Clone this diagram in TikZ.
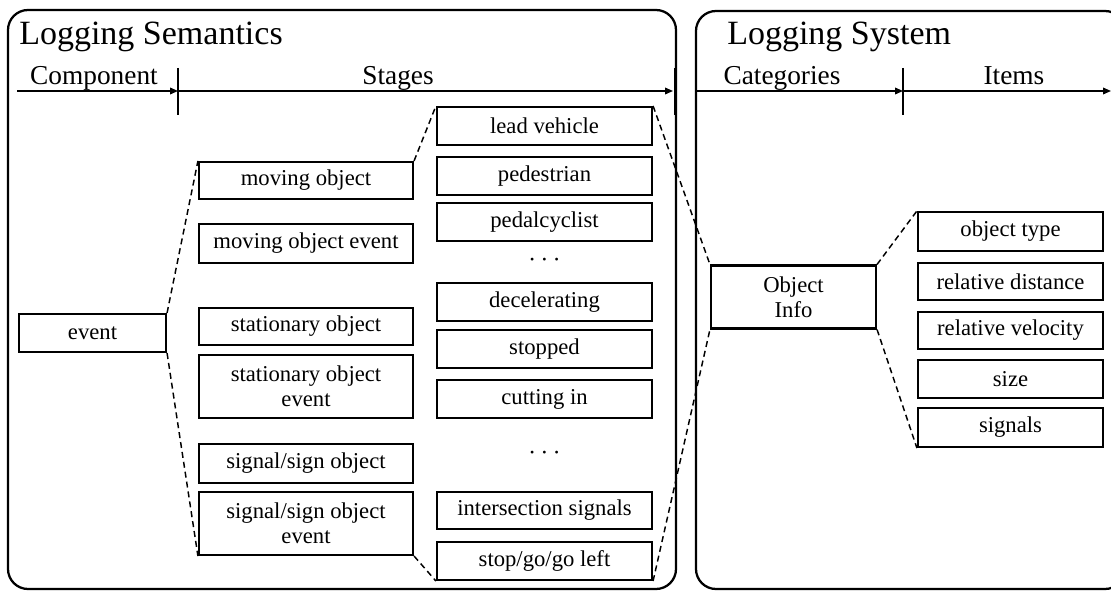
\documentclass[tikz,border=0pt]{standalone}
\usepackage{fontspec}
\setmainfont{Liberation Serif}
\usetikzlibrary{arrows.meta}
\tikzset{
  panel/.style={draw, line width=1.7pt, rounded corners=15pt},
  bx/.style 2 args={draw, line width=1.6pt, inner sep=0pt, align=center,
    minimum width=#1*0.75pt, minimum height=#2*0.75pt,
    font=\fontsize{17}{19}\selectfont},
  link/.style={line width=1.1pt, dash pattern=on 4.5pt off 3pt},
  axis/.style={line width=1.1pt, -{Triangle[length=6pt,width=5pt]}},
  tick/.style={line width=1.1pt},
  ttl/.style={anchor=base west, inner sep=0pt, font=\fontsize{25.5}{28}\selectfont},
  hdr/.style={anchor=base, inner sep=0pt, font=\fontsize{20.5}{23}\selectfont},
  dots/.style={inner sep=0pt, font=\fontsize{22}{24}\selectfont}
}
\begin{document}
\begin{tikzpicture}[x=0.75pt,y=-0.75pt]
\useasboundingbox (0,0) rectangle (1111,591);

% two panels
\draw[panel] (8,10) rectangle (676,589);
\draw[panel] (696,11) rectangle (1125,589);

% panel titles
\node[ttl] (tsem) at (19,45) {Logging Semantics};
\node[ttl] (tsys) at (727,45) {Logging System};

% left axis: Component | Stages
\coordinate (la0) at (17,91);
\coordinate (la1) at (178,91);
\coordinate (la2) at (673,91);
\draw[axis] (la0) -- (la1);
\draw[axis] (la1) -- (la2);
\draw[tick] (178,68) -- (178,115);
\draw[line width=2pt] (675,68) -- (675,115);
\node[hdr] (hcomp) at (94,85) {Component};
\node[hdr] (hstag) at (398,85) {Stages};

% right axis: Categories | Items
\coordinate (ra0) at (697,91);
\coordinate (ra1) at (903,91);
\coordinate (ra2) at (1111,91);
\draw[axis] (ra0) -- (ra1);
\draw[axis] (ra1) -- (ra2);
\draw[tick] (903,68) -- (903,115);
\node[hdr] (hcat) at (782,85) {Categories};
\node[hdr] (hitem) at (1014,85) {Items};

% component
\node[bx={147}{38}] (ev) at (92.5,333) {event};

% object classes
\node[bx={214}{37}] (mo)   at (306,180.5) {moving object};
\node[bx={214}{39}] (moe)  at (306,243.5) {moving object event};
\node[bx={214}{37}] (so)   at (306,326.5) {stationary object};
\node[bx={214}{63}] (soe)  at (306,386.5) {stationary object\\event};
\node[bx={214}{39}] (sso)  at (306,463.5) {signal/sign object};
\node[bx={214}{63}] (ssoe) at (306,523.5) {signal/sign object\\event};

% stage values
\node[bx={215}{38}] (lead) at (544.5,126) {lead vehicle};
\node[bx={215}{38}] (ped)  at (544.5,176) {pedestrian};
\node[bx={215}{38}] (pcy)  at (544.5,222) {pedalcyclist};
\node[dots] (d1) at (544.5,260) {$\cdots$};
\node[bx={215}{38}] (dec)  at (544.5,302) {decelerating};
\node[bx={215}{38}] (stp)  at (544.5,349) {stopped};
\node[bx={215}{38}] (cut)  at (544.5,399) {cutting in};
\node[dots] (d2) at (544.5,453) {$\cdots$};
\node[bx={215}{37}] (isig) at (544.5,510.5) {intersection signals};
\node[bx={215}{38}] (sgl)  at (544.5,561) {stop/go/go left};

% logging system
\node[bx={165}{63}] (oi) at (793.5,297) {Object\\Info};
\node[bx={185}{39}] (otype) at (1010.5,231.5) {object type};
\node[bx={185}{37}] (rdist) at (1010.5,281.5) {relative distance};
\node[bx={185}{37}] (rvel)  at (1010.5,330.5) {relative velocity};
\node[bx={185}{38}] (size)  at (1010.5,379) {size};
\node[bx={185}{39}] (sigs)  at (1010.5,427.5) {signals};

% expansion links
\draw[link] (ev.north east) -- (mo.north west);
\draw[link] (ev.south east) -- (ssoe.south west);
\draw[link] (mo.north east) -- (lead.north west);
\draw[link] (ssoe.south east) -- (sgl.south west);
\draw[link] (lead.north east) -- (oi.north west);
\draw[link] (sgl.south east) -- (oi.south west);
\draw[link] (oi.north east) -- (otype.north west);
\draw[link] (oi.south east) -- (sigs.south west);
\end{tikzpicture}
\end{document}
